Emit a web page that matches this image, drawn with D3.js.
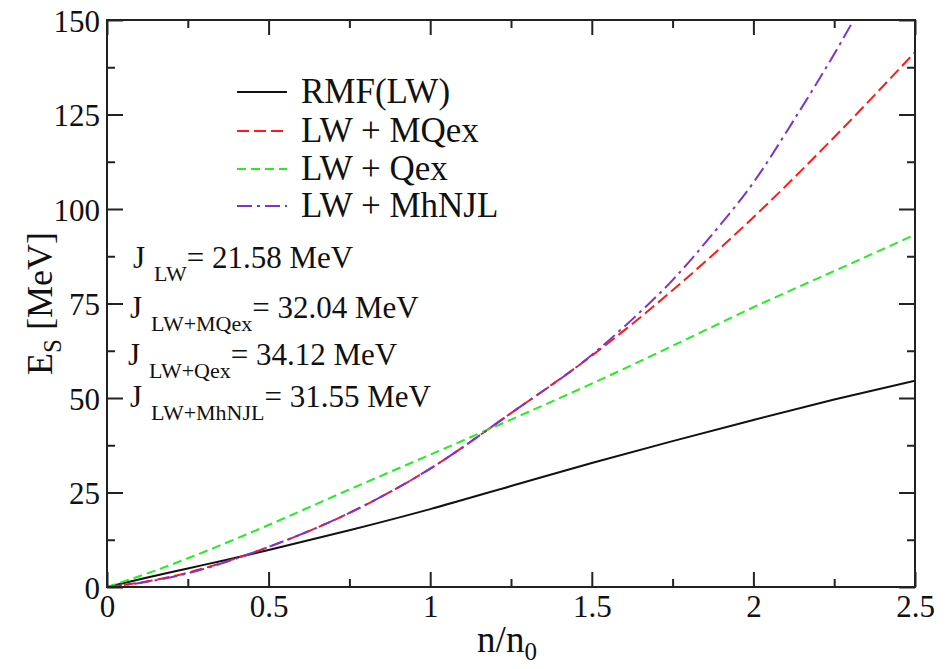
<!DOCTYPE html>
<html>
<head>
<meta charset="utf-8">
<script src="https://cdn.jsdelivr.net/npm/d3@7"></script>
<style>
  body { margin: 0; background: #fff; }
  svg, svg text, svg tspan { font-family: "Liberation Serif", "Times New Roman", serif !important; }
  svg text { fill: #111; }
</style>
</head>
<body>
<div id="container"></div>
<script>
// density grid (n/n0) shared by three curves
const density = [0, 0.125, 0.25, 0.375, 0.5, 0.75, 1, 1.25, 1.5, 1.75, 2, 2.25, 2.5]
const rmfLW = [0, 2.5, 4.9, 7.3, 9.8, 15.0, 20.6, 26.7, 32.8, 38.6, 44.2, 49.6, 54.6]
const lwMQex = [0, 1.5, 3.8, 6.9, 10.6, 19.6, 31.3, 46, 61.2, 78.5, 97.8, 119, 141.5]
const lwQex = [0, 3.6, 7.6, 11.9, 16.4, 25.8, 35, 44.3, 53.8, 63.8, 74, 83.6, 93.2]
// MhNJL has its own grid, finer where it bends up
const densityMhNJL = [0, 0.125, 0.25, 0.375, 0.5, 0.75, 1, 1.25, 1.5, 1.625, 1.75, 1.875, 2, 2.125, 2.25, 2.375]
const lwMhNJL = [0, 1.4, 3.6, 6.8, 10.6, 19.6, 31.3, 46, 61.4, 70.8, 81.2, 93.5, 107, 123.5, 141, 160]

const seriesNames = ['RMF(LW)', 'LW + MQex', 'LW + Qex', 'LW + MhNJL']
const xTicks = [0, 0.5, 1, 1.5, 2, 2.5]
const xTickLabels = ['0', '0.5', '1', '1.5', '2', '2.5']
const xMinor = [0.25, 0.75, 1.25, 1.75, 2.25]
const yTicks = [0, 25, 50, 75, 100, 125, 150]
const yTickLabels = ['0', '25', '50', '75', '100', '125', '150']
const yMinor = [12.5, 37.5, 62.5, 87.5, 112.5, 137.5]

const symLabels = ['LW', 'LW+MQex', 'LW+Qex', 'LW+MhNJL']
const symValues = ['= 21.58 MeV', '= 32.04 MeV', '= 34.12 MeV', '= 31.55 MeV']

const W = 952, H = 669
const margin = { left: 107, right: 37, top: 20, bottom: 82 }
const w = W - margin.left - margin.right
const h = H - margin.top - margin.bottom
const serif = '"Liberation Serif", "Times New Roman", serif'

const x = d3.scaleLinear().domain([0, 2.5]).range([0, w])
const y = d3.scaleLinear().domain([0, 150]).range([h, 0])

const svg = d3.select('#container')
  .append('svg')
  .attr('width', W)
  .attr('height', H)
  .attr('font-family', serif)

const g = svg.append('g')
  .attr('transform', `translate(${margin.left},${margin.top})`)

g.append('clipPath').attr('id', 'clip')
  .append('rect').attr('width', w).attr('height', h)

//line styles
const styles = [
  { color: '#111', dash: null },
  { color: '#ff1a1a', dash: '12,5' },
  { color: '#22ee22', dash: '9,5' },
  { color: '#7d33cc', dash: '15,5,3,5' }
]

const curves = [
  density.map((d, i) => [d, rmfLW[i]]),
  density.map((d, i) => [d, lwMQex[i]]),
  density.map((d, i) => [d, lwQex[i]]),
  densityMhNJL.map((d, i) => [d, lwMhNJL[i]])
]

const line = d3.line()
  .x(d => x(d[0]))
  .y(d => y(d[1]))
  .curve(d3.curveMonotoneX)

g.append('g').attr('clip-path', 'url(#clip)')
  .selectAll('path')
  .data(curves)
  .enter()
  .append('path')
  .attr('d', line)
  .attr('fill', 'none')
  .attr('stroke', (d, i) => styles[i].color)
  .attr('stroke-width', 2)
  .attr('stroke-dasharray', (d, i) => styles[i].dash)

// axes, ticks pointing inward on all four sides
const noDomain = sel => sel.attr('font-family', serif).select('.domain').remove()

const bottom = g.append('g').attr('transform', `translate(0,${h})`)
bottom.call(d3.axisBottom(x).tickValues(xTicks).tickSize(-15)
  .tickFormat((d, i) => xTickLabels[i])).call(noDomain)
bottom.selectAll('text').attr('y', 30).attr('dy', 0).attr('font-size', 31)
g.append('g').attr('transform', `translate(0,${h})`)
  .call(d3.axisBottom(x).tickValues(xMinor).tickSize(-8).tickFormat('')).call(noDomain)

g.append('g').call(d3.axisTop(x).tickValues(xTicks).tickSize(-15).tickFormat('')).call(noDomain)
g.append('g').call(d3.axisTop(x).tickValues(xMinor).tickSize(-8).tickFormat('')).call(noDomain)

const left = g.append('g')
left.call(d3.axisLeft(y).tickValues(yTicks).tickSize(-16)
  .tickFormat((d, i) => yTickLabels[i])).call(noDomain)
left.selectAll('text').attr('x', -7).attr('dy', '0.36em').attr('font-size', 31)
g.append('g').call(d3.axisLeft(y).tickValues(yMinor).tickSize(-8).tickFormat('')).call(noDomain)

g.append('g').attr('transform', `translate(${w},0)`)
  .call(d3.axisRight(y).tickValues(yTicks).tickSize(-16).tickFormat('')).call(noDomain)
g.append('g').attr('transform', `translate(${w},0)`)
  .call(d3.axisRight(y).tickValues(yMinor).tickSize(-8).tickFormat('')).call(noDomain)

g.selectAll('.tick line').attr('stroke', '#222').attr('stroke-width', 2)
g.selectAll('.tick text').attr('fill', '#111')

//frame
g.append('rect')
  .attr('width', w)
  .attr('height', h)
  .attr('fill', 'none')
  .attr('stroke', '#222')
  .attr('stroke-width', 2)

// axis titles
const xTitle = svg.append('text')
  .attr('x', margin.left + w / 2 - 4)
  .attr('y', 652)
  .attr('text-anchor', 'middle')
  .attr('font-size', 37)
xTitle.append('tspan').text('n/n')
xTitle.append('tspan').attr('font-size', 25).attr('dy', 8).text('0')

const yTitle = svg.append('text')
  .attr('transform', `translate(52,${margin.top + h / 2}) rotate(-90)`)
  .attr('text-anchor', 'middle')
  .attr('font-size', 36)
yTitle.append('tspan').text('E')
yTitle.append('tspan').attr('font-size', 25).attr('dy', 9).text('S')
yTitle.append('tspan').attr('dy', -9).text(' [MeV]')

// legend
const legend = svg.append('g')
const legendY = [92, 131, 169, 206]
seriesNames.forEach((name, i) => {
  legend.append('line')
    .attr('x1', 237).attr('x2', 287)
    .attr('y1', legendY[i]).attr('y2', legendY[i])
    .attr('stroke', styles[i].color)
    .attr('stroke-width', 2)
    .attr('stroke-dasharray', styles[i].dash)
  legend.append('text')
    .attr('x', 301)
    .attr('y', legendY[i] + 11)
    .attr('font-size', 35)
    .text(name)
})

// symmetry energy annotations
const symX = [133, 130, 128, 130]
const symY = [268, 318, 365, 407]
symLabels.forEach((lab, i) => {
  const t = svg.append('text')
    .attr('x', symX[i])
    .attr('y', symY[i])
    .attr('font-size', 31)
  t.append('tspan').text('J')
  t.append('tspan').attr('dx', 9).attr('dy', 13).attr('font-size', 22).text(lab)
  t.append('tspan').attr('dy', -13).text(symValues[i])
})
</script>
</body>
</html>
